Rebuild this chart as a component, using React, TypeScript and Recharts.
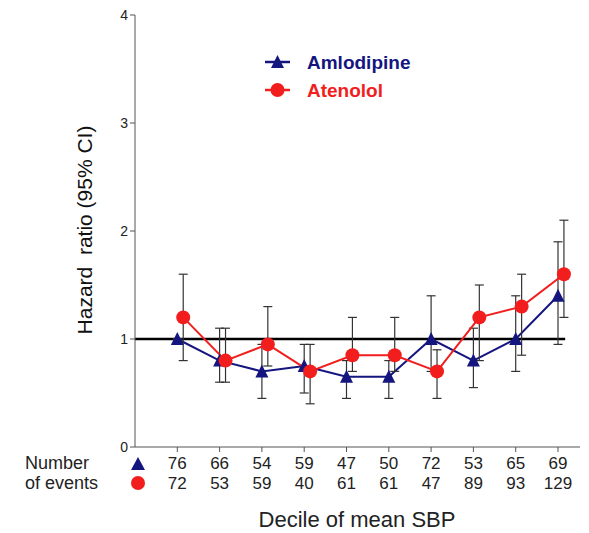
import React from 'react';
import { ComposedChart, Line, XAxis, YAxis, ErrorBar, ReferenceLine } from 'recharts';

// deciles of mean SBP
const deciles = [1, 2, 3, 4, 5, 6, 7, 8, 9, 10];

// hazard ratios with 95% CI
const amlodipineHr = [1.0, 0.8, 0.7, 0.75, 0.65, 0.65, 1.0, 0.8, 1.0, 1.4];
const amlodipineLow = [1.0, 0.6, 0.45, 0.5, 0.45, 0.45, 0.7, 0.55, 0.7, 0.95];
const amlodipineHigh = [1.0, 1.1, 0.95, 0.95, 0.8, 0.8, 1.4, 1.1, 1.4, 1.9];

const atenololHr = [1.2, 0.8, 0.95, 0.7, 0.85, 0.85, 0.7, 1.2, 1.3, 1.6];
const atenololLow = [0.8, 0.6, 0.75, 0.4, 0.7, 0.7, 0.45, 0.8, 0.85, 1.2];
const atenololHigh = [1.6, 1.1, 1.3, 0.95, 1.2, 1.2, 0.9, 1.5, 1.6, 2.1];

// number of events per decile
const amlodipineEvents = [76, 66, 54, 59, 47, 50, 72, 53, 65, 69];
const atenololEvents = [72, 53, 59, 40, 61, 61, 47, 89, 93, 129];

const yTicks = [0, 1, 2, 3, 4];

const NAVY = '#15157f';
const RED = '#f21d1d';
const FONT = '"Liberation Sans", Arial, sans-serif';

const amlodipineData = deciles.map((d, i) => ({
  x: d,
  hr: amlodipineHr[i],
  ci: [amlodipineHr[i] - amlodipineLow[i], amlodipineHigh[i] - amlodipineHr[i]],
}));

// atenolol points are nudged right so the two series don't overlap
const atenololData = deciles.map((d, i) => ({
  x: d + 0.14,
  hr: atenololHr[i],
  ci: [atenololHr[i] - atenololLow[i], atenololHigh[i] - atenololHr[i]],
}));

const triangleDot = (props: any) => {
  const { cx, cy, index } = props;
  return (
    <path
      key={`tri-${index}`}
      d={`M${cx},${cy - 7} L${cx + 6.5},${cy + 6} L${cx - 6.5},${cy + 6} Z`}
      fill={NAVY}
    />
  );
};

const circleDot = (props: any) => {
  const { cx, cy, index } = props;
  return <circle key={`dot-${index}`} cx={cx} cy={cy} r={7} fill={RED} />;
};

const EventsTick = (props: any) => {
  const { x, y, payload } = props;
  const i = deciles.indexOf(payload.value);
  return (
    <g fontFamily={FONT} fontSize={17} fill="#222">
      <text x={x} y={y + 15} textAnchor="middle">{amlodipineEvents[i]}</text>
      <text x={x} y={y + 35} textAnchor="middle">{atenololEvents[i]}</text>
    </g>
  );
};

const App: React.FC = () => {
  return (
    <div style={{ position: 'absolute', left: 0, top: 0, width: 589, height: 533, background: '#fff', fontFamily: FONT }}>
      <ComposedChart width={589} height={533} margin={{ top: 15, right: 9, bottom: 0, left: 75 }}>
        <XAxis
          dataKey="x"
          type="number"
          domain={[0, 10.52]}
          ticks={deciles}
          tick={<EventsTick />}
          tickSize={5}
          stroke="#555"
          height={86}
          label={{
            content: () => (
              <text x={357} y={527} textAnchor="middle" fontSize={22} fill="#222" fontFamily={FONT}>
                Decile of mean SBP
              </text>
            ),
          }}
        />
        <YAxis
          type="number"
          domain={[0, 4]}
          ticks={yTicks}
          width={60}
          tickSize={5}
          stroke="#555"
          tick={{ fill: '#222', fontSize: 14, fontFamily: FONT }}
          label={{
            content: () => (
              <text
                x={84}
                y={230}
                transform="rotate(-90 84 230)"
                textAnchor="middle"
                dominantBaseline="central"
                fontSize={21}
                fill="#111"
                fontFamily={FONT}
                style={{ whiteSpace: 'pre' }}
              >
                {'Hazard  ratio (95% CI)'}
              </text>
            ),
          }}
        />
        <ReferenceLine segment={[{ x: 0, y: 1 }, { x: 10.17, y: 1 }]} stroke="#000" strokeWidth={2.5} />
        <Line
          data={amlodipineData}
          dataKey="hr"
          type="linear"
          stroke={NAVY}
          strokeWidth={2}
          dot={triangleDot}
          isAnimationActive={false}
        >
          <ErrorBar dataKey="ci" direction="y" width={4.5} stroke="#333" strokeWidth={1.2} />
        </Line>
        <Line
          data={atenololData}
          dataKey="hr"
          type="linear"
          stroke={RED}
          strokeWidth={2}
          dot={circleDot}
          isAnimationActive={false}
        >
          <ErrorBar dataKey="ci" direction="y" width={4.5} stroke="#333" strokeWidth={1.2} />
        </Line>
      </ComposedChart>

      {/* legend and the row labels of the events table */}
      <svg width={589} height={533} style={{ position: 'absolute', left: 0, top: 0, pointerEvents: 'none' }}>
        <g fontFamily={FONT} fontWeight="bold" fontSize={19}>
          <line x1={265} y1={62} x2={290} y2={62} stroke={NAVY} strokeWidth={2.5} />
          <path d="M277.5,55 L284,68 L271,68 Z" fill={NAVY} />
          <text x={307} y={69} fill={NAVY}>Amlodipine</text>
          <line x1={265} y1={90} x2={290} y2={90} stroke={RED} strokeWidth={2.5} />
          <circle cx={277.5} cy={90} r={7} fill={RED} />
          <text x={307} y={97} fill={RED}>Atenolol</text>
        </g>
        <g fontFamily={FONT} fontSize={18} fill="#222">
          <text x={25} y={469}>Number</text>
          <text x={25} y={489}>of events</text>
        </g>
        <path d="M138,457 L145,470 L131,470 Z" fill={NAVY} />
        <circle cx={138} cy={483} r={7} fill={RED} />
      </svg>
    </div>
  );
};

export default App;
